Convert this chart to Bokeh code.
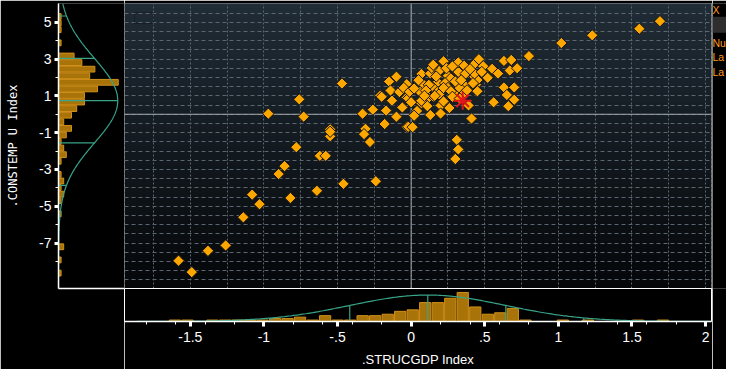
import numpy as np
from bokeh.plotting import figure
from bokeh.models import Range1d, FixedTicker, Span, BoxAnnotation, Label, LinearAxis
from bokeh.layouts import row, column
from bokeh.embed import file_html
from bokeh.resources import INLINE

# ---------------- data ----------------
x_vals = [1.69, 1.55, 1.23, 1.02, 0.80, -1.58, -1.49, -1.38, -1.26, -1.14,
          -1.08, -1.03, -0.90, -0.86, -0.82, -0.78, -0.64, -0.62, -0.58, -0.55,
          -0.55, -0.46, -0.31, -0.32, -0.28, -0.24, -0.18, -0.10, -0.03, -0.47,
          -0.76, -0.97, -0.73, -0.33, -0.26, -0.21, -0.17, -0.15, -0.10, -0.14,
          -0.13, -0.06, -0.08, -0.03, -0.03, -0.05, -0.02, -0.01, 0.07, 0.13,
          0.08, 0.06, 0.12, 0.07, 0.04, 0.02, 0.13, 0.11, -0.02, 0.01,
          0.15, 0.18, 0.15, 0.19, 0.22, 0.20, 0.20, 0.26, 0.25, 0.27,
          0.23, 0.18, 0.31, 0.32, 0.32, 0.36, 0.37, 0.36, 0.33, 0.39,
          0.41, 0.43, 0.43, 0.46, 0.44, 0.45, 0.49, 0.52, 0.55, 0.59,
          0.56, 0.63, 0.68, 0.67, 0.72, 0.63, 0.70, 0.65, 0.70, 0.66,
          0.31, 0.32, 0.30, -0.10, 0.14, 0.12, 0.19, 0.25, 0.43, 0.30,
          0.22, 0.10, 0.00, 0.15, 0.42, 0.07, 0.16, 0.27, 0.35, 0.28,
          0.22, 0.09, 0.38, 0.24, 0.05, -0.20, 0.34, 0.40, 0.48, -0.55,
          0.28, 0.17, 0.02, 0.33, 0.45]
y_vals = [5.06, 4.65, 4.29, 3.87, 3.16, -7.96, -8.58, -7.42, -7.13, -5.60,
          -4.37, -4.89, -3.25, -2.82, -4.55, -1.79, -4.16, -2.26, -2.26, -0.82,
          -1.20, -3.78, -0.79, -1.08, -1.51, -3.64, -0.53, -0.16, -0.68, 1.67,
          0.81, 0.03, -0.13, 0.03, 0.25, 1.01, 0.20, 1.78, 2.04, 1.29,
          0.74, 0.37, 1.21, 1.64, 0.91, 1.43, 0.86, 1.22, 2.19, 2.22,
          1.65, 1.22, 0.91, 0.60, 0.18, -0.08, -0.04, 0.44, -0.68, -0.70,
          0.96, 1.74, 1.43, 2.35, 2.88, 0.48, 0.04, 0.34, 2.09, 1.95,
          1.69, 1.22, 1.12, 2.30, 2.82, 2.64, 2.21, 1.60, 1.43, 0.48,
          -0.23, 2.04, 2.73, 2.99, 1.60, 1.86, 2.61, 1.98, 2.47, 2.21,
          0.65, 2.90, 2.95, 2.38, 2.50, 1.46, 1.46, 1.05, 0.79, 0.44,
          -1.39, -1.91, -2.43, -0.13, 2.52, 1.60, 1.08, 1.43, 2.21, 1.78,
          1.43, 1.29, 0.65, 2.69, 1.69, 0.74, 1.00, 1.25, 1.05, 0.95,
          0.70, 1.00, 1.30, 2.50, 1.85, 0.95, 1.85, 2.45, 2.30, -0.95,
          2.60, 2.05, 1.40, 0.85, 1.25]
last_x = [0.35]
last_y = [0.74]

x_ticks = [-1.5, -1, -0.5, 0, 0.5, 1, 1.5, 2]
x_tick_labels = ["-1.5", "-1", "-.5", "0", ".5", "1", "1.5", "2"]
x_minor_ticks = [-1.8, -1.6, -1.4, -1.2, -1.0, -0.8, -0.6, -0.4, -0.2, 0.0,
                 0.2, 0.4, 0.6, 0.8, 1.0, 1.2, 1.4, 1.6, 1.8, 2.0]
y_ticks = [-7, -5, -3, -1, 1, 3, 5]
y_tick_labels = ["-7", "-5", "-3", "-1", "1", "3", "5"]
y_minor_ticks = [-8, -6, -4, -2, 0, 2, 4]

x_hist_start = -1.647
x_hist_width = 0.085
x_hist_counts = [1, 1, 0, 1, 1, 1, 1, 1, 2, 2, 3, 1, 4, 1, 1, 4, 4, 5, 7, 8,
                 13, 13, 16, 20, 10, 5, 6, 9, 1, 0, 0, 1, 0, 1, 0, 0, 0, 1, 0, 1]
y_hist_start = -8.81
y_hist_width = 0.3575
y_hist_counts = [1, 0, 1, 0, 2, 0, 0, 0, 0, 1, 0, 1, 2, 1, 2, 1, 0, 1, 3, 2,
                 1, 3, 5, 2, 5, 7, 10, 10, 15, 23, 12, 14, 9, 6, 0, 1, 0, 1, 1, 1]

x_mean, x_sd = 0.113, 0.53
y_mean, y_sd = 0.74, 2.30
x_curve_peak = 18.2
y_curve_peak = 22.8

side_texts = ["X", "Nu", "La", "La"]

X_RANGE = (-1.947, 2.04)
Y_RANGE = (-9.47, 6.02)
X_COUNT_MAX = 22.7
Y_COUNT_MAX = 25.4

# ---------------- styles ----------------
MARKER_FILL = "#fca600"
MARKER_LINE = "#141414"
BAR_FILL = "#a87308"
BAR_LINE = "#d2911a"
CURVE = "#38a488"
LABEL_FONT = "Liberation Sans"
SIDE_COLOR = "#ff9a1a"

LEFT_W = 124
LEFT_AXIS_W = 58
MAIN_W, MAIN_H = 588, 288
TOP_PAD = 3
BOT_H = 81
BOT_AXIS_H = 47
RIGHT_W = 14
TOTAL_H = MAIN_H + BOT_H

# ---------------- main scatter ----------------
main = figure(width=MAIN_W, height=MAIN_H,
              x_range=Range1d(*X_RANGE), y_range=Range1d(*Y_RANGE),
              x_axis_location=None, y_axis_location=None,
              toolbar_location=None, output_backend="svg",
              min_border_left=0, min_border_right=1, min_border_top=TOP_PAD, min_border_bottom=0,
              border_fill_color="black", background_fill_color="#0d1217",
              outline_line_color="#a0a0a0")

n_strips = 60
top_rgb = np.array([32, 44, 54])
bot_rgb = np.array([5, 7, 9])
edges = np.linspace(Y_RANGE[0], Y_RANGE[1], n_strips + 1)
step = edges[1] - edges[0]
for i in range(n_strips):
    f = (i + 0.5) / n_strips
    c = bot_rgb + (top_rgb - bot_rgb) * f
    col = "#%02x%02x%02x" % tuple(int(round(v)) for v in c)
    main.add_layout(BoxAnnotation(bottom=edges[i], top=edges[i + 1] + step * 0.3,
                                  fill_color=col, fill_alpha=1.0, line_color=None,
                                  level="image"))

main.xgrid.ticker = FixedTicker(ticks=list(np.arange(-1.75, 2.01, 0.25)))
main.ygrid.ticker = FixedTicker(ticks=list(np.arange(-9.0, 6.01, 0.5)))
main.xgrid.grid_line_color = "#5b6670"
main.xgrid.grid_line_dash = "2 2"
main.ygrid.grid_line_color = "#5b6670"
main.ygrid.grid_line_dash = "4 3"

main.add_layout(Span(location=0, dimension="height", line_color="#a4a8ac",
                     line_width=1, level="underlay"))
main.add_layout(Span(location=0, dimension="width", line_color="#a4a8ac",
                     line_width=1, level="underlay"))

frame_w = MAIN_W - 1
frame_h = MAIN_H - TOP_PAD
xs = X_RANGE[1] - X_RANGE[0]
ys = Y_RANGE[1] - Y_RANGE[0]
main.add_layout(BoxAnnotation(left=X_RANGE[0] + xs * 10 / frame_w,
                              right=X_RANGE[0] + xs * 29 / frame_w,
                              top=Y_RANGE[1] - ys * 9 / frame_h,
                              bottom=Y_RANGE[1] - ys * 20 / frame_h,
                              fill_alpha=0, line_color="#050505", line_width=1))

main.scatter(x_vals, y_vals, marker="square", angle=np.pi / 4, size=8,
             fill_color=MARKER_FILL, line_color=MARKER_LINE, line_width=1)
main.scatter(last_x, last_y, marker="asterisk", size=18,
             line_color="#e3141c", line_width=2)

# ---------------- left histogram (y distribution), full column height ----------------
left = figure(width=LEFT_W, height=TOTAL_H,
              x_range=Range1d(0, Y_COUNT_MAX), y_range=main.y_range,
              x_axis_location=None, y_axis_location="left",
              toolbar_location=None, output_backend="svg",
              min_border_left=LEFT_AXIS_W, min_border_right=0,
              min_border_top=TOP_PAD, min_border_bottom=BOT_H,
              border_fill_color="black", background_fill_color="black",
              outline_line_color=None)
left.xgrid.visible = False
left.ygrid.visible = False

base_axis = LinearAxis(ticker=FixedTicker(ticks=[]), axis_line_color="white",
                       axis_line_width=1.5, major_tick_line_color=None,
                       minor_tick_line_color=None, major_label_text_font_size="0px")
left.add_layout(base_axis, "below")

y_centers = [y_hist_start + (i + 0.5) * y_hist_width for i in range(len(y_hist_counts))]
left.hbar(y=y_centers, right=y_hist_counts, left=0, height=y_hist_width * 0.88,
          fill_color=BAR_FILL, line_color=BAR_LINE, line_width=1)

yy = np.linspace(Y_RANGE[0], Y_RANGE[1], 400)
left.line(y_curve_peak * np.exp(-0.5 * ((yy - y_mean) / y_sd) ** 2), yy,
          line_color=CURVE, line_width=1.2)
for k in (-2, -1, 0, 1, 2):
    yk = y_mean + k * y_sd
    left.segment(x0=[0], y0=[yk], x1=[y_curve_peak * np.exp(-0.5 * k * k)], y1=[yk],
                 line_color=CURVE, line_width=1.2)

ya = left.yaxis[0]
ya.ticker = FixedTicker(ticks=y_ticks, minor_ticks=y_minor_ticks)
ya.major_label_overrides = dict(zip(y_ticks, y_tick_labels))
ya.axis_label = ".CONSTEMP U Index"
ya.axis_label_text_font = "DejaVu Sans Mono"
ya.axis_label_text_font_size = "12px"
ya.axis_label_text_font_style = "normal"
ya.axis_label_text_color = "white"
ya.axis_label_standoff = 16
ya.major_label_text_font = LABEL_FONT
ya.major_label_text_font_size = "14px"
ya.major_label_text_color = "white"
ya.major_label_standoff = 3
ya.axis_line_color = "white"
ya.axis_line_width = 1.5
ya.major_tick_line_color = "white"
ya.major_tick_line_width = 3
ya.major_tick_out = 4
ya.major_tick_in = 0
ya.minor_tick_line_color = "white"
ya.minor_tick_out = 3
ya.minor_tick_in = 0

# ---------------- bottom histogram (x distribution) ----------------
bottom = figure(width=MAIN_W, height=BOT_H,
                x_range=main.x_range, y_range=Range1d(0, X_COUNT_MAX),
                x_axis_location="below", y_axis_location=None,
                toolbar_location=None, output_backend="svg",
                min_border_left=0, min_border_right=1, min_border_top=0,
                min_border_bottom=BOT_AXIS_H,
                border_fill_color="black", background_fill_color="black",
                outline_line_color="white")
bottom.xgrid.visible = False
bottom.ygrid.visible = False

x_centers = [x_hist_start + (i + 0.5) * x_hist_width for i in range(len(x_hist_counts))]
bottom.vbar(x=x_centers, top=x_hist_counts, bottom=0, width=x_hist_width * 0.9,
            fill_color=BAR_FILL, line_color=BAR_LINE, line_width=1)

xx = np.linspace(X_RANGE[0], X_RANGE[1], 400)
bottom.line(xx, x_curve_peak * np.exp(-0.5 * ((xx - x_mean) / x_sd) ** 2),
            line_color=CURVE, line_width=1.2)
for k in (-2, -1, 0, 1, 2):
    xk = x_mean + k * x_sd
    bottom.segment(x0=[xk], y0=[0], x1=[xk], y1=[x_curve_peak * np.exp(-0.5 * k * k)],
                   line_color=CURVE, line_width=1.2)

xa = bottom.xaxis[0]
xa.ticker = FixedTicker(ticks=x_ticks, minor_ticks=x_minor_ticks)
xa.major_label_overrides = dict(zip(x_ticks, x_tick_labels))
xa.axis_label = ".STRUCGDP Index"
xa.axis_label_text_font = LABEL_FONT
xa.axis_label_text_font_size = "13px"
xa.axis_label_text_font_style = "normal"
xa.axis_label_text_color = "white"
xa.axis_label_standoff = 7
xa.major_label_text_font = LABEL_FONT
xa.major_label_text_font_size = "14px"
xa.major_label_text_color = "white"
xa.major_label_standoff = 5
xa.axis_line_color = "white"
xa.axis_line_width = 1.5
xa.major_tick_line_color = "white"
xa.major_tick_line_width = 3
xa.major_tick_out = 5
xa.major_tick_in = 0
xa.minor_tick_line_color = "white"
xa.minor_tick_out = 3
xa.minor_tick_in = 0

# ---------------- right side strip (pixel-unit canvas) ----------------
side = figure(width=RIGHT_W, height=TOTAL_H,
              x_range=Range1d(0, RIGHT_W), y_range=Range1d(0, TOTAL_H),
              x_axis_location=None, y_axis_location=None,
              toolbar_location=None, output_backend="svg",
              min_border_left=0, min_border_right=0, min_border_top=0, min_border_bottom=0,
              border_fill_color="black", background_fill_color="black",
              outline_line_color=None)
side.xgrid.visible = False
side.ygrid.visible = False
side.quad(left=[0], right=[RIGHT_W], top=[TOTAL_H - 17], bottom=[TOTAL_H - 38],
          fill_color="#2e2e2e", line_color=None)
for t, s in zip([1, 43, 62, 81], side_texts):
    side.add_layout(Label(x=0, y=TOTAL_H - t, text=s, text_font=LABEL_FONT,
                          text_font_size="10.5px", text_color=SIDE_COLOR,
                          text_baseline="top", text_align="left"))

p = row(left, column(main, bottom), side)

open("out.html", "w").write(file_html(p, INLINE))
